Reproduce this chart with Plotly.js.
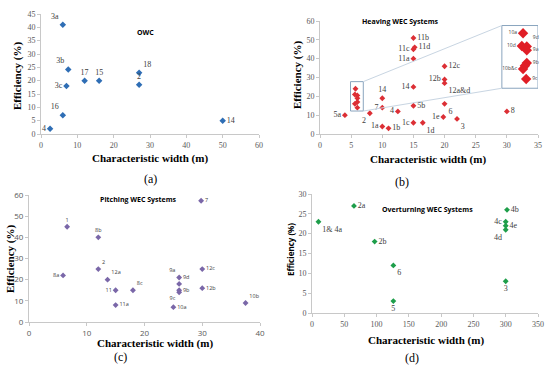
<!DOCTYPE html>
<html><head><meta charset="utf-8">
<script src="https://cdn.plot.ly/plotly-3.0.1.min.js"></script>
<style>html,body{margin:0;padding:0;background:#fff}#c{width:550px;height:369px}</style>
</head><body><div id="c"></div>
<script>
// (a) OWC
const owcX = [6, 7.5, 7, 12, 16, 27, 27, 6, 2.5, 50];
const owcY = [41, 24.2, 18, 20, 20, 23, 18.5, 7, 2, 5];
const owcL = ['3a','3b','3c','17','15','18','2','16','4','14'];
const owcP = ['top left','top left','middle left','top center','top center','top right','top center','top left','middle left','middle right'];
// (b) Heaving
const heaveX = [4, 8, 10, 10, 12.5, 10, 11, 15, 16.5, 15, 15, 15, 15, 15.2, 15, 20, 20, 20, 20, 19.8, 22, 30, 5.7, 5.6, 6, 6, 6, 5.6, 6];
const heaveY = [10, 11, 14, 19, 12, 4, 3, 6, 6, 15, 25, 40, 45, 46, 51, 36, 29, 27, 16, 9, 8, 12, 24, 21, 20.5, 19, 17, 16, 14];
const heaveL = ['5a','2','7','14','4','1a','1b','1c','1d','5b','14','11a','11c','11d','11b','12c','12b','12a&d','6','1e','3','8','','','','','','',''];
const heaveP = ['middle left','bottom left','middle left','top center','middle left','middle left','middle right','middle left','bottom right','middle right','middle left','middle left','middle left','middle right','middle right','middle right','middle left','bottom right','bottom right','middle left','bottom right','middle right','top center','top center','top center','top center','top center','top center','top center'];
// (b) zoomed inset
const insetX = [32.6, 32.4, 33.2, 33.2, 33.2, 32.6, 32.9, 33.1];
const insetY = [53.5, 46.7, 46.5, 44.5, 37.7, 34.5, 36.2, 29.2];
const insetL = ['10a','10d','9d','9a','9b','10b&c','','9c'];
const insetP = ['middle left','middle left','top right','middle right','middle right','middle left','middle right','middle right'];
// (c) Pitching
const pitchX = [6.6, 12, 5.9, 12, 13.6, 15, 15, 18, 26, 26, 26, 26, 25, 29.8, 30, 30, 37.5];
const pitchY = [45, 40, 22, 25, 20, 15, 8, 15, 21, 18, 15, 14, 7, 57.3, 25, 16, 9];
const pitchL = ['1','8b','8a','2','12a','11','11a','8c','9a','9d','9b','9c','10a','7','12c','12b','10b'];
const pitchP = ['top center','top center','middle left','top right','top right','middle left','middle right','top right','top left','top right','middle right','bottom left','middle right','middle right','middle right','middle right','top right'];
// (d) Overturning
const overX = [10, 65, 97, 126, 126, 302, 300, 300, 300, 300];
const overY = [23, 27, 18, 12, 3, 26, 23, 22, 21, 8];
const overL = ['1& 4a','2a','2b','6','5','4b','4c','4e','4d','3'];
const overP = ['bottom right','middle right','middle right','bottom right','bottom center','middle right','middle left','middle right','bottom left','bottom center'];

const serif = '"Liberation Serif", "DejaVu Serif", "Times New Roman", serif';
const sans = '"Open Sans", "Liberation Sans", sans-serif';
function tr(x,y,t,p,col,xa,ya,sz,font,fs){
  return {x:x,y:y,text:t,textposition:p,mode:'markers+text',type:'scatter',xaxis:xa,yaxis:ya,
    marker:{symbol:'diamond',size:sz,color:col},textfont:{family:font,size:fs,color:'#404040'},
    cliponaxis:false,showlegend:false,hoverinfo:'skip'};
}
const data = [
  tr(owcX,owcY,owcL,owcP,'#2F6EB5','x','y',5,serif,8),
  tr(heaveX,heaveY,heaveL,heaveP,'#DC2F35','x2','y2',4.5,serif,8),
  tr(insetX,insetY,insetL,insetP,'#E01E26','x2','y2',8,sans,5),
  tr(pitchX,pitchY,pitchL,pitchP,'#7A67A8','x3','y3',4.5,sans,5.5),
  tr(overX,overY,overL,overP,'#1E9E4A','x4','y4',4.5,serif,8)
];
function ax(dom,rng,dt,anchor,font,fs){
  return {domain:dom,range:rng,dtick:dt,tick0:0,anchor:anchor,showgrid:false,zeroline:false,
    showline:true,linecolor:'#c8c8c8',linewidth:1,ticks:'outside',ticklen:3,tickcolor:'#c8c8c8',
    tickfont:{family:font,size:fs,color:'#595959'},fixedrange:true};
}
const W=550,H=369;
function px(x){return x/W;} function py(y){return 1-y/H;}
function ann(x,y,t,opt){return Object.assign({xref:'paper',yref:'paper',x:px(x),y:py(y),text:t,showarrow:false,xanchor:'center',yanchor:'middle',font:{family:serif,size:11,color:'#000'}},opt||{});}
const annotations = [
  ann(150,158,'<b>Characteristic width (m)</b>'),
  ann(17,76,'<b>Efficiency (%)</b>',{textangle:-90}),
  ann(150,179,'(a)',{font:{family:serif,size:12,color:'#000'}}),
  ann(145,32,'<b>OWC</b>',{font:{family:sans,size:7,color:'#000'}}),
  ann(428,159,'<b>Characteristic width (m)</b>'),
  ann(297,75,'<b>Efficiency (%)</b>',{textangle:-90}),
  ann(402,182,'(b)',{font:{family:serif,size:12,color:'#000'}}),
  ann(400,22,'<b>Heaving WEC Systems</b>',{font:{family:sans,size:7,color:'#000'}}),
  ann(155,343,'<b>Characteristic width (m)</b>'),
  ann(10,259,'<b>Efficiency (%)</b>',{textangle:-90}),
  ann(120,357,'(c)',{font:{family:serif,size:12,color:'#000'}}),
  ann(138,200,'<b>Pitching WEC Systems</b>',{font:{family:sans,size:7,color:'#000'}}),
  ann(426,340,'<b>Characteristic width (m)</b>'),
  ann(290,250,'<b>Efficiency (%)</b>',{textangle:-90,font:{family:sans,size:8,color:'#000'}}),
  ann(412,358,'(d)',{font:{family:serif,size:12,color:'#000'}}),
  ann(427,209,'<b>Overturning WEC Systems</b>',{font:{family:sans,size:7,color:'#000'}})
];
const shapes = [
  {type:'rect',xref:'x2',yref:'y2',x0:4.9,x1:6.95,y0:12.2,y1:27.8,line:{color:'#8AA5BE',width:1}},
  {type:'rect',xref:'x2',yref:'y2',x0:29.2,x1:35,y0:24.3,y1:57.6,line:{color:'#8AA5BE',width:1}},
  {type:'line',xref:'x2',yref:'y2',x0:6.95,y0:27.8,x1:29.2,y1:57.6,line:{color:'#C8D5E2',width:1}},
  {type:'line',xref:'x2',yref:'y2',x0:6.95,y0:12.2,x1:29.2,y1:24.3,line:{color:'#C8D5E2',width:1}}
];
const layout = {
  width:W,height:H,margin:{l:0,r:0,t:0,b:0},paper_bgcolor:'#fff',plot_bgcolor:'rgba(0,0,0,0)',
  showlegend:false,
  xaxis: ax([41/W,259/W],[0,60],10,'y',serif,8),
  yaxis: ax([py(134),py(14)],[0,45],5,'x',serif,8),
  xaxis2: ax([320/W,538/W],[0,35],5,'y2',serif,8),
  yaxis2: ax([py(134),py(21)],[0,60],10,'x2',serif,8),
  xaxis3: ax([29/W,260/W],[0,40],10,'y3',sans,8),
  yaxis3: ax([py(322),py(195)],[0,60],10,'x3',sans,8),
  xaxis4: ax([312/W,538/W],[0,350],50,'y4',serif,8),
  yaxis4: ax([py(313),py(194)],[0,30],5,'x4',serif,8),
  annotations:annotations, shapes:shapes
};
Plotly.newPlot('c',data,layout,{staticPlot:true});
</script></body></html>
